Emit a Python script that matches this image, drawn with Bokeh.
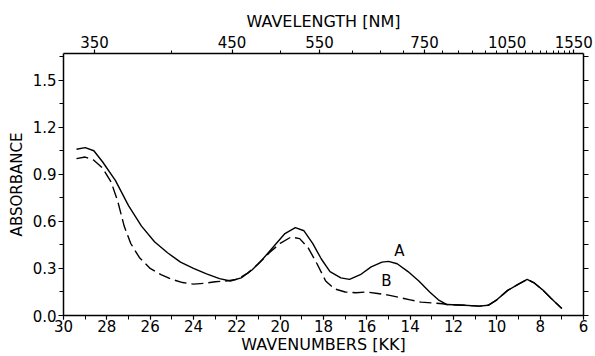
from bokeh.plotting import figure
from bokeh.models import Range1d, LinearAxis, FixedTicker, PrintfTickFormatter, CustomJSTickFormatter, ColumnDataSource
from bokeh.core.properties import value
from bokeh.embed import file_html
from bokeh.resources import INLINE

# --- data (wavenumber in kK, absorbance) ---
a_k = [29.4, 29.0, 28.6, 28.2, 27.6, 27.0, 26.4, 25.8, 25.2, 24.6, 24.0, 23.4, 22.8, 22.3,
       21.8, 21.3, 20.8, 20.3, 19.8, 19.3, 18.9, 18.5, 18.1, 17.7, 17.2, 16.8, 16.3, 15.8,
       15.3, 15.0, 14.6, 14.1, 13.6, 13.1, 12.7, 12.3, 11.5, 10.8, 10.4, 10.0, 9.5, 9.0,
       8.6, 8.3, 7.9, 7.5, 7.0]
a_abs = [1.06, 1.07, 1.05, 0.98, 0.86, 0.70, 0.57, 0.47, 0.40, 0.34, 0.30, 0.265, 0.235, 0.22,
         0.24, 0.29, 0.36, 0.44, 0.52, 0.56, 0.54, 0.46, 0.36, 0.28, 0.24, 0.23, 0.26, 0.31,
         0.34, 0.345, 0.33, 0.28, 0.22, 0.15, 0.10, 0.07, 0.065, 0.06, 0.065, 0.10, 0.16, 0.20,
         0.23, 0.21, 0.165, 0.11, 0.045]

b_k = [29.4, 29.0, 28.6, 28.2, 27.8, 27.5, 27.2, 26.9, 26.5, 26.0, 25.5, 25.0, 24.5, 24.0,
       23.5, 23.0, 22.5, 22.0, 21.5, 21.0, 20.5, 20.0, 19.5, 19.1, 18.7, 18.3, 17.9, 17.5,
       17.0, 16.5, 16.0, 15.5, 15.0, 14.5, 14.0, 13.5, 13.0, 12.5, 12.3, 11.5, 10.8, 10.4,
       10.0, 9.5, 9.0, 8.6, 8.3, 7.9, 7.5, 7.0]
b_abs = [1.00, 1.01, 0.99, 0.94, 0.85, 0.73, 0.57, 0.46, 0.37, 0.30, 0.26, 0.23, 0.21, 0.20,
         0.205, 0.215, 0.22, 0.23, 0.27, 0.33, 0.40, 0.46, 0.50, 0.49, 0.43, 0.33, 0.22, 0.17,
         0.15, 0.145, 0.15, 0.14, 0.13, 0.115, 0.10, 0.085, 0.08, 0.075, 0.07, 0.065, 0.06, 0.065,
         0.10, 0.16, 0.20, 0.23, 0.21, 0.165, 0.11, 0.045]

wn_major = [30, 28, 26, 24, 22, 20, 18, 16, 14, 12, 10, 8, 6]
wn_minor = list(range(6, 31))
abs_major = [0.0, 0.3, 0.6, 0.9, 1.2, 1.5]
abs_minor = [0.15, 0.45, 0.75, 1.05, 1.35, 1.65]
wl_major = [350, 450, 550, 750, 1050, 1550]
wl_minor = list(range(350, 1551, 50))

labels_txt = ["A", "B"]
labels_k = [14.5, 15.1]
labels_abs = [0.41, 0.22]

FONT = "DejaVu Sans"

p = figure(width=595, height=356, x_range=Range1d(30, 6), y_range=Range1d(0, 1.67),
           output_backend="svg", toolbar_location=None,
           min_border_left=63, min_border_right=12, min_border_top=53, min_border_bottom=40)
p.grid.visible = False
p.outline_line_color = None
p.background_fill_color = "white"
p.border_fill_color = "white"

def style_axis(ax, font_size="15px"):
    ax.axis_line_color = "black"
    ax.axis_line_width = 1.5
    ax.major_tick_line_color = "black"
    ax.minor_tick_line_color = "black"
    ax.major_tick_line_width = 1.2
    ax.minor_tick_line_width = 1.0
    ax.major_tick_in = 0
    ax.major_tick_out = 5
    ax.minor_tick_in = 0
    ax.minor_tick_out = 4
    ax.major_label_text_font = FONT
    ax.major_label_text_font_size = font_size
    ax.major_label_text_color = "black"
    ax.major_label_standoff = 2
    ax.axis_label_text_font = FONT
    ax.axis_label_text_font_style = "normal"
    ax.axis_label_text_color = "black"
    ax.axis_label_standoff = 2

# bottom axis
xa = p.xaxis[0]
xa.ticker = FixedTicker(ticks=wn_major, minor_ticks=wn_minor)
xa.axis_label = "WAVENUMBERS [KK]"
style_axis(xa)
xa.axis_label_text_font_size = "16px"
xa.axis_label_standoff = 0
xa.major_label_standoff = 0
xa.major_tick_out = 4

# left axis
ya = p.yaxis[0]
ya.ticker = FixedTicker(ticks=abs_major, minor_ticks=abs_minor)
ya.formatter = PrintfTickFormatter(format="%.1f")
ya.axis_label = "ABSORBANCE"
style_axis(ya)
ya.axis_label_text_font_size = "15px"
ya.axis_label_standoff = 4

# top axis (wavelength, nm)
top = LinearAxis(ticker=FixedTicker(ticks=[10000.0 / w for w in wl_major],
                                    minor_ticks=[10000.0 / w for w in wl_minor]),
                 formatter=CustomJSTickFormatter(code="return String(Math.round(10000 / tick));"),
                 axis_label="WAVELENGTH [NM]")
style_axis(top)
top.axis_label_text_font_size = "16px"
top.major_tick_out = 4
top.minor_tick_out = 3
p.add_layout(top, "above")

# right axis (ticks only)
right = LinearAxis(ticker=FixedTicker(ticks=abs_major + abs_minor))
style_axis(right)
right.major_label_text_font_size = "0px"
right.major_label_text_color = None
p.add_layout(right, "right")

p.line(a_k, a_abs, line_color="black", line_width=1.4)
p.line(b_k, b_abs, line_color="black", line_width=1.4, line_dash="12 5")

src = ColumnDataSource(dict(x=labels_k, y=labels_abs, t=labels_txt))
p.text(x="x", y="y", text="t", source=src, text_font=value(FONT), text_font_size="15px",
       text_align="center", text_baseline="middle", text_color="black")

open("out.html", "w").write(file_html(p, INLINE))
